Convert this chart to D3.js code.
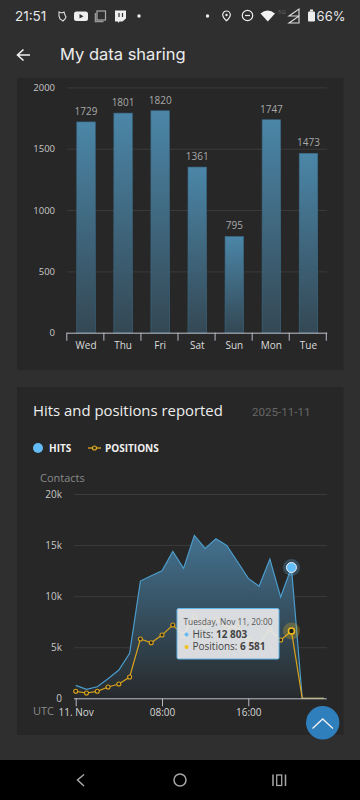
<!DOCTYPE html>
<html>
<head>
<meta charset="utf-8">
<title>My data sharing</title>
<script src="https://cdn.jsdelivr.net/npm/d3@7"></script>
<style>
  html, body { margin: 0; padding: 0; background: #2f2f2f; overflow: hidden; }
  svg { display: block; }
  text { font-family: "Open Sans", "Noto Sans", sans-serif; }
  .domain { fill: none; }
</style>
</head>
<body>
<div id="chart"></div>
<script>
/* daily bars */
const days = ["Wed", "Thu", "Fri", "Sat", "Sun", "Mon", "Tue"];
const dayCounts = [1729, 1801, 1820, 1361, 795, 1747, 1473];
const dayTicks = [0, 500, 1000, 1500, 2000];

/* hourly series, 11 Nov */
const hours = [0, 1, 2, 3, 4, 5, 6, 7, 8, 9, 10, 11, 12, 13, 14, 15, 16, 17, 18, 19, 20, 21, 22, 23];
const hits = [1270, 880, 1130, 1920, 2770, 4400, 11480, 12000, 12490, 14380, 12720, 15950, 14680, 15620, 14970, 13370, 11740, 10960, 13630, 9910, 12803, 0, 0, 0];
const positions = [685, 520, 685, 1105, 1400, 2085, 5800, 5440, 6190, 7170, 6160, 7980, 7100, 7750, 6900, 7000, 5770, 5310, 6710, 5700, 6581, 0, 0, 0];
const hourTicks = [0, 8, 16];
const hourLabels = ["11. Nov", "08:00", "16:00"];
const contactTicks = [0, 5000, 10000, 15000, 20000];
const hoverIndex = 20;

const svg = d3.select("#chart").append("svg")
    .attr("width", 360)
    .attr("height", 800);

const defs = svg.append("defs");

const barGrad = defs.append("linearGradient")
    .attr("id", "barGrad")
    .attr("x1", 0).attr("y1", 0).attr("x2", 0).attr("y2", 1);
barGrad.append("stop").attr("offset", "0%").attr("stop-color", "#4b86a8");
barGrad.append("stop").attr("offset", "100%").attr("stop-color", "#344854");

const areaGrad = defs.append("linearGradient")
    .attr("id", "areaGrad")
    .attr("x1", 0).attr("y1", 0).attr("x2", 0).attr("y2", 1);
areaGrad.append("stop").attr("offset", "0%").attr("stop-color", "#447290");
areaGrad.append("stop").attr("offset", "100%").attr("stop-color", "#272a2c");

// page background and panels
svg.append("rect").attr("width", 360).attr("height", 800).attr("fill", "#2f2f2f");
svg.append("rect").attr("x", 17).attr("y", 78).attr("width", 326.5).attr("height", 292).attr("fill", "#272727");
svg.append("rect").attr("x", 17).attr("y", 387).attr("width", 326.5).attr("height", 348).attr("fill", "#272727");
svg.append("rect").attr("y", 760).attr("width", 360).attr("height", 40).attr("fill", "#000");

renderStatusBar();
renderHeader();
renderDailyBars();
renderHitsChart();
renderNavBar();

function renderStatusBar() {
    const g = svg.append("g");
    g.append("text").attr("x", 15).attr("y", 21)
        .attr("fill", "#e8e8e8").style("font-family", "Inter").style("font-size", "13.5px")
        .text("21:51");
    g.append("text").attr("x", 345.5).attr("y", 21).attr("text-anchor", "end")
        .attr("fill", "#e8e8e8").style("font-family", "Inter").style("font-size", "13px")
        .text("66%");

    // left icons
    g.append("path").attr("d", "M59 12l3 1 2-1 1 3 1 2-1 2-2 2-3-2-1-3z")
        .attr("fill", "none").attr("stroke", "#ddd").attr("stroke-width", 1.1);
    g.append("rect").attr("x", 74).attr("y", 11.5).attr("width", 14).attr("height", 9.5).attr("rx", 2.5).attr("fill", "#eee");
    g.append("path").attr("d", "M79.5 14l4 2.2-4 2.2z").attr("fill", "#2f2f2f");
    g.append("rect").attr("x", 97).attr("y", 11).attr("width", 8.5).attr("height", 9).attr("fill", "none").attr("stroke", "#aaa").attr("stroke-width", 1.2);
    g.append("path").attr("d", "M95.5 13v8.5h8").attr("fill", "none").attr("stroke", "#999").attr("stroke-width", 1.6);
    g.append("path").attr("d", "M115 10.5h11v8l-3.500 3h-3l-1.500 1.500v-1.500h-3z").attr("fill", "#eee");
    g.append("path").attr("d", "M119 13v4M122.500 13v4").attr("stroke", "#2f2f2f").attr("stroke-width", 1.2);
    g.append("circle").attr("cx", 139).attr("cy", 16).attr("r", 1.7).attr("fill", "#eee");

    // right icons
    g.append("circle").attr("cx", 207.500).attr("cy", 16).attr("r", 1.7).attr("fill", "#eee");
    g.append("path").attr("d", "M226.500 11a3.800 3.800 0 0 1 3.800 3.800c0 2.600-3.800 6-3.800 6s-3.800-3.400-3.800-6a3.800 3.800 0 0 1 3.800-3.800z")
        .attr("fill", "none").attr("stroke", "#eee").attr("stroke-width", 1.2);
    g.append("circle").attr("cx", 226.500).attr("cy", 15).attr("r", 1.2).attr("fill", "#eee");
    g.append("circle").attr("cx", 247.500).attr("cy", 15.500).attr("r", 5.200).attr("fill", "none").attr("stroke", "#eee").attr("stroke-width", 1.2);
    g.append("path").attr("d", "M245 15.500h5").attr("stroke", "#eee").attr("stroke-width", 1.2);
    g.append("path").attr("d", "M260.500 13.500q7-6 14.500 0l-7.200 8z").attr("fill", "#f2f2f2");
    g.append("text").attr("x", 278).attr("y", 14).attr("fill", "#666").style("font-size", "6px").text("5G");
    g.append("path").attr("d", "M289 16l10-7v7zM289 23l10-7v7z").attr("fill", "none").attr("stroke", "#ddd").attr("stroke-width", 1.1);
    g.append("rect").attr("x", 308).attr("y", 11.500).attr("width", 7).attr("height", 10).attr("rx", 1).attr("fill", "#eee");
    g.append("rect").attr("x", 310).attr("y", 9.500).attr("width", 3).attr("height", 2).attr("fill", "#eee");
}

function renderHeader() {
    svg.append("path").attr("d", "M30 55H18M23.500 49.500L17.500 55l6 5.500")
        .attr("fill", "none").attr("stroke", "#f0f0f0").attr("stroke-width", 1.6);
    svg.append("text").attr("x", 60).attr("y", 60)
        .attr("fill", "#ececec").style("font-family", "Inter").style("font-size", "16.5px")
        .text("My data sharing");
}

function renderDailyBars() {
    const x = d3.scaleBand().domain(days).range([67.5, 327]).paddingInner(0.5).paddingOuter(0.25);
    const y = d3.scaleLinear().domain([0, 2000]).range([332.7, 87.4]);

    const yAxis = svg.append("g")
        .attr("transform", "translate(67,0)")
        .call(d3.axisLeft(y).tickValues(dayTicks).tickSize(-260).tickPadding(12).tickFormat(d3.format("d")));
    yAxis.select(".domain").remove();
    yAxis.selectAll("line").attr("stroke", "#3b3b3b");
    yAxis.selectAll("text").attr("fill", "#c8c8c8").style("font-size", "9.5px");

    // bars sit a little under the grid in the original
    const bars = svg.append("g").attr("transform", "translate(0,1.3)");

    bars.selectAll("rect")
        .data(days)
        .enter()
        .append("rect")
        .attr("x", d => x(d))
        .attr("y", (d, i) => y(dayCounts[i]))
        .attr("width", x.bandwidth())
        .attr("height", (d, i) => y(0) - y(dayCounts[i]) - 1.3)
        .attr("fill", "url(#barGrad)")
        .attr("stroke", "#3a6a86")
        .attr("stroke-width", 0.6);

    bars.selectAll("text")
        .data(days)
        .enter()
        .append("text")
        .attr("x", d => x(d) + x.bandwidth() / 2)
        .attr("y", (d, i) => y(dayCounts[i]) - 7)
        .attr("text-anchor", "middle")
        .attr("fill", "#a8a8a8")
        .style("font-size", "10px")
        .text((d, i) => dayCounts[i]);

    const xAxis = svg.append("g")
        .attr("transform", "translate(0,332.7)")
        .call(d3.axisBottom(x).tickSize(0).tickPadding(9));
    xAxis.selectAll("text").attr("fill", "#dcdcdc").style("font-size", "10px");

    // ticks sit between the categories
    xAxis.selectAll(".band-tick")
        .data(d3.range(days.length + 1))
        .enter()
        .append("line")
        .attr("x1", i => x.step() * i + 66.8)
        .attr("x2", i => x.step() * i + 66.8)
        .attr("y1", 0)
        .attr("y2", 8)
        .attr("stroke", "#b8bcc8");
    xAxis.select(".domain").attr("stroke", "#b8bcc8").attr("d", "M66.800,0.500H327.300");
}

function renderHitsChart() {
    svg.append("text").attr("x", 33).attr("y", 416)
        .attr("fill", "#eeeeee").style("font-size", "14.9px")
        .text("Hits and positions reported");
    svg.append("text").attr("x", 252).attr("y", 416)
        .attr("fill", "#666").style("font-family", "Roboto").style("font-size", "11.6px")
        .text("2025-11-11");

    // legend
    svg.append("circle").attr("cx", 38).attr("cy", 448).attr("r", 5).attr("fill", "#64bdf6");
    svg.append("text").attr("x", 49).attr("y", 452)
        .attr("fill", "#f0f0f0").style("font-size", "10px").style("font-weight", 700).text("HITS");
    svg.append("line").attr("x1", 88).attr("x2", 101).attr("y1", 448).attr("y2", 448)
        .attr("stroke", "#e0a91e").attr("stroke-width", 1.3);
    svg.append("circle").attr("cx", 94.500).attr("cy", 448).attr("r", 2)
        .attr("fill", "#272727").attr("stroke", "#e0a91e").attr("stroke-width", 1.2);
    svg.append("text").attr("x", 105).attr("y", 452)
        .attr("fill", "#f0f0f0").style("font-size", "10px").style("font-weight", 700).text("POSITIONS");
    svg.append("text").attr("x", 40).attr("y", 482)
        .attr("fill", "#8a8a8a").style("font-size", "11px").text("Contacts");
    svg.append("text").attr("x", 33).attr("y", 715)
        .attr("fill", "#8a8a8a").style("font-size", "11px").text("UTC");

    const x = d3.scaleLinear().domain([0, 8]).range([75.700, 162]);
    const y = d3.scaleLinear().domain([0, 20000]).range([698.300, 494]);

    const yAxis = svg.append("g")
        .attr("transform", "translate(74,0)")
        .call(d3.axisLeft(y).tickValues(contactTicks).tickSize(-253).tickPadding(12)
            .tickFormat(d => d === 0 ? "0" : (d / 1000) + "k"));
    yAxis.select(".domain").remove();
    yAxis.selectAll("line").attr("stroke", "#3b3b3b");
    yAxis.selectAll("text").attr("fill", "#c8c8c8").style("font-size", "10px");

    const area = d3.area()
        .x((d, i) => x(hours[i]))
        .y0(y(0))
        .y1(d => y(d));
    const line = d3.line()
        .x((d, i) => x(hours[i]))
        .y(d => y(d));

    svg.append("path").datum(hits).attr("d", area).attr("fill", "url(#areaGrad)");
    svg.append("path").datum(hits).attr("d", line)
        .attr("fill", "none").attr("stroke", "#4b9ccb").attr("stroke-width", 1.2);
    svg.append("path").datum(positions).attr("d", line)
        .attr("fill", "none").attr("stroke", "#d9a31c").attr("stroke-width", 1.2);

    svg.append("g").selectAll("circle")
        .data(positions)
        .enter()
        .filter(d => d > 0)
        .append("circle")
        .attr("cx", (d, i) => x(hours[i]))
        .attr("cy", d => y(d))
        .attr("r", 2)
        .attr("fill", "#272727")
        .attr("stroke", "#d9a31c")
        .attr("stroke-width", 1.1);

    const xAxis = svg.append("g")
        .attr("transform", "translate(0,698.300)")
        .call(d3.axisBottom(x).tickValues(hourTicks).tickSize(8).tickPadding(3)
            .tickFormat((d, i) => hourLabels[i]));
    xAxis.select(".domain").attr("stroke", "#b8bcc8").attr("d", "M74,0.500H326.700");
    xAxis.selectAll("line").attr("stroke", "#b8bcc8");
    xAxis.selectAll("text").attr("fill", "#d8d8d8").style("font-size", "10px");

    // hovered point
    const hx = x(hours[hoverIndex]);
    svg.append("circle").attr("cx", hx).attr("cy", y(hits[hoverIndex])).attr("r", 8.500)
        .attr("fill", "#64bdf6").attr("fill-opacity", 0.25);
    svg.append("circle").attr("cx", hx).attr("cy", y(hits[hoverIndex])).attr("r", 5)
        .attr("fill", "#64bdf6").attr("stroke", "#f2f2f2").attr("stroke-width", 1);
    svg.append("circle").attr("cx", hx).attr("cy", y(positions[hoverIndex])).attr("r", 8.500)
        .attr("fill", "#f3c01c").attr("fill-opacity", 0.25);
    svg.append("circle").attr("cx", hx).attr("cy", y(positions[hoverIndex])).attr("r", 3)
        .attr("fill", "#1e1e1e").attr("stroke", "#f3c01c").attr("stroke-width", 1.5);

    // tooltip
    const fmt = v => d3.format(",")(v).replace(",", " ");
    const tip = svg.append("g").attr("transform", "translate(177,608.500)");
    tip.append("rect").attr("width", 102).attr("height", 50.500).attr("rx", 1.500)
        .attr("fill", "#e6e7e9").attr("fill-opacity", 0.93)
        .attr("stroke", "#64b5e8").attr("stroke-width", 1);
    tip.append("text").attr("x", 6.500).attr("y", 16.500)
        .attr("fill", "#555").style("font-size", "8.3px").text("Tuesday, Nov 11, 20:00");
    tip.append("circle").attr("cx", 9.500).attr("cy", 26).attr("r", 2).attr("fill", "#64bdf6");
    tip.append("circle").attr("cx", 9.500).attr("cy", 38.500).attr("r", 2).attr("fill", "#f3c01c");
    const row1 = tip.append("text").attr("x", 15.500).attr("y", 29).attr("fill", "#444").style("font-size", "10px");
    row1.append("tspan").text("Hits: ");
    row1.append("tspan").style("font-weight", 700).text(fmt(hits[hoverIndex]));
    const row2 = tip.append("text").attr("x", 15.500).attr("y", 41.500).attr("fill", "#444").style("font-size", "10px");
    row2.append("tspan").text("Positions: ");
    row2.append("tspan").style("font-weight", 700).text(fmt(positions[hoverIndex]));

    // scroll to top button
    svg.append("circle").attr("cx", 322.700).attr("cy", 722.700).attr("r", 16.700).attr("fill", "#2f7fbd");
    svg.append("path").attr("d", "M312.500 728.500L322.700 719l10.200 9.500")
        .attr("fill", "none").attr("stroke", "#f2f2f2").attr("stroke-width", 1.3);
}

function renderNavBar() {
    svg.append("path").attr("d", "M84 774.500L77.500 780l6.500 6")
        .attr("fill", "none").attr("stroke", "#a8a8a8").attr("stroke-width", 1.5);
    svg.append("circle").attr("cx", 180).attr("cy", 780).attr("r", 6)
        .attr("fill", "none").attr("stroke", "#a8a8a8").attr("stroke-width", 1.5);
    svg.append("path").attr("d", "M273 774.500v11.500M285.500 774.500v11.500")
        .attr("stroke", "#a8a8a8").attr("stroke-width", 1.5);
    svg.append("rect").attr("x", 276.700).attr("y", 775).attr("width", 5).attr("height", 10.500)
        .attr("fill", "none").attr("stroke", "#a8a8a8").attr("stroke-width", 1.3);
}
</script>
</body>
</html>
